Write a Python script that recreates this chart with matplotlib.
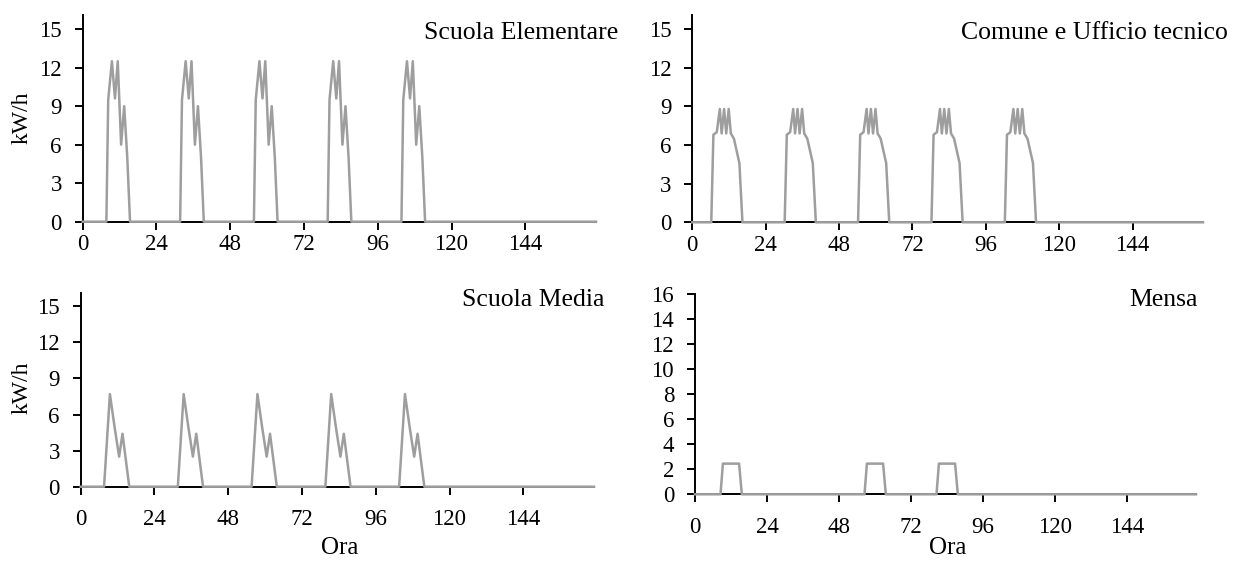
import matplotlib
matplotlib.use("Agg")
import matplotlib.pyplot as plt
import numpy as np

plt.rcParams['font.family'] = ['Liberation Serif', 'DejaVu Serif']

# ---- data (one working-day profile per building, hours within the day) ----
week_end = 167

elem_hours = [7.7, 8.3, 9.5, 10.5, 11.4, 12.5, 13.5, 14.5, 15.4]
elem_kwh   = [0.0, 9.5, 12.5, 9.6, 12.5, 6.0, 9.0, 5.0, 0.0]
elem_days  = [0, 1, 2, 3, 4]

comune_hours = [6.2, 6.9, 8.0, 9.0, 9.6, 10.4, 11.1, 11.9, 12.6, 13.6, 15.4, 16.4]
comune_kwh   = [0.0, 6.8, 7.0, 8.8, 6.9, 8.8, 6.9, 8.8, 6.9, 6.5, 4.6, 0.0]
comune_days  = [0, 1, 2, 3, 4]

media_hours = [7.6, 9.5, 11.0, 12.5, 13.6, 15.8]
media_kwh   = [0.0, 7.7, 5.0, 2.5, 4.4, 0.0]
media_days  = [0, 1, 2, 3, 4]

mensa_hours = [8.5, 9.3, 14.7, 15.6]
mensa_kwh   = [0.0, 2.45, 2.45, 0.0]
mensa_days  = [0, 2, 3]

xticks = [0, 24, 48, 72, 96, 120, 144]
yticks_std = [0, 3, 6, 9, 12, 15]
yticks_mensa = [0, 2, 4, 6, 8, 10, 12, 14, 16]


def weekly(hours, vals, days):
    t = [0.0]
    v = [0.0]
    for d in days:
        t += [24 * d + h for h in hours]
        v += list(vals)
    t.append(week_end)
    v.append(0.0)
    return t, v


W, H = 1242, 567
fig = plt.figure(figsize=(W / 100, H / 100), dpi=100)

def px_axes(l, r, top, bot):
    return fig.add_axes([l / W, 1 - bot / H, (r - l) / W, (bot - top) / H])

panels = [
    (px_axes(82.7, 596, 15, 221.7), elem_hours, elem_kwh, elem_days, yticks_std, 16.1, 3),
    (px_axes(692.3, 1203, 15, 222.3), comune_hours, comune_kwh, comune_days, yticks_std, 16.1, 3),
    (px_axes(80.7, 594, 293, 486.7), media_hours, media_kwh, media_days, yticks_std, 16.1, 10),
    (px_axes(695, 1196, 294, 494.3), mensa_hours, mensa_kwh, mensa_days, yticks_mensa, 16.0, 10),
]

line_color = '#9e9e9e'
for ax, hrs, vals, days, yt, ytop, xpad in panels:
    t, v = weekly(hrs, vals, days)
    ax.plot(t, v, color=line_color, lw=1.8, clip_on=False, zorder=3)
    ax.set_xlim(0, week_end)
    ax.set_ylim(0, ytop)
    ax.set_xticks(xticks)
    ax.set_yticks(yt)
    for s in ['top', 'right']:
        ax.spines[s].set_visible(False)
    for s in ['left', 'bottom']:
        ax.spines[s].set_linewidth(1.4)
        ax.spines[s].set_color('black')
    ax.tick_params(axis='both', direction='out', length=6, width=1.4,
                   labelsize=16.5, colors='black')
    ax.tick_params(axis='x', pad=xpad)
    ax.tick_params(axis='y', pad=9)
    ax.patch.set_alpha(0)

fig.text(618 / W, 1 - 33 / H, 'Scuola Elementare', ha='right', va='center', fontsize=18.5)
fig.text(1228 / W, 1 - 33 / H, 'Comune e Ufficio tecnico', ha='right', va='center', fontsize=18.5)
fig.text(605 / W, 1 - 300 / H, 'Scuola Media', ha='right', va='center', fontsize=18.5)
fig.text(1198 / W, 1 - 300 / H, 'Mensa', ha='right', va='center', fontsize=18.5)

fig.text(22 / W, 1 - 118 / H, 'kW/h', ha='center', va='center', rotation=90, fontsize=17)
fig.text(22 / W, 1 - 388 / H, 'kW/h', ha='center', va='center', rotation=90, fontsize=17)
fig.text(340 / W, 1 - 548 / H, 'Ora', ha='center', va='center', fontsize=18)
fig.text(948 / W, 1 - 548 / H, 'Ora', ha='center', va='center', fontsize=18)

fig.savefig('out.png', dpi=100)
